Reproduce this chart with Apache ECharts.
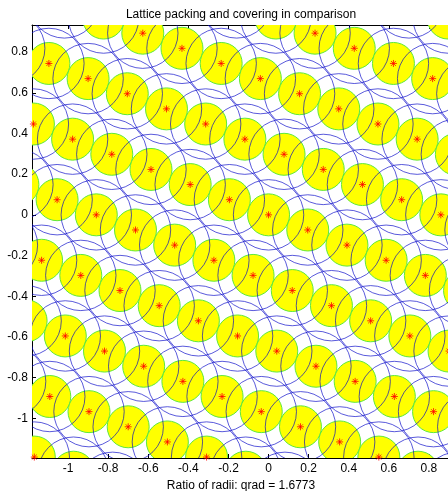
<!DOCTYPE html>
<html>
<head>
<meta charset="utf-8">
<script src="https://cdn.jsdelivr.net/npm/echarts@6/dist/echarts.min.js"></script>
<style>
  html, body { margin: 0; padding: 0; background: #fff; }
  #container { width: 448px; height: 491px; }
</style>
</head>
<body>
<div id="container"></div>
<script>
// lattice centres, read row by row (each row is horizontal)
var rowY = [1.0416, 0.9672, 0.8928, 0.8184, 0.744, 0.6696, 0.5952, 0.5208, 0.4464,
  0.372, 0.2976, 0.2232, 0.1488, 0.0744, 0, -0.0744, -0.1488, -0.2232, -0.2976,
  -0.372, -0.4464, -0.5208, -0.5952, -0.6696, -0.744, -0.8184, -0.8928, -0.9672,
  -1.0416, -1.116, -1.1904, -1.2648, -1.3392];
var rowX = [
  [-1.0184, -0.1591, 0.7002],
  [-0.8229, 0.0364, 0.8957],
  [-0.6274, 0.2319],
  [-1.2912, -0.4319, 0.4274],
  [-1.0957, -0.2364, 0.6229],
  [-0.9002, -0.0409, 0.8184],
  [-0.7047, 0.1546, 1.0139],
  [-0.5092, 0.3501],
  [-1.173, -0.3137, 0.5456],
  [-0.9775, -0.1182, 0.7411],
  [-0.782, 0.0773, 0.9366],
  [-0.5865, 0.2728],
  [-1.2503, -0.391, 0.4683],
  [-1.0548, -0.1955, 0.6638],
  [-0.8593, 0, 0.8593],
  [-0.6638, 0.1955, 1.0548],
  [-1.3276, -0.4683, 0.391],
  [-1.1321, -0.2728, 0.5865],
  [-0.9366, -0.0773, 0.782],
  [-0.7411, 0.1182, 0.9775],
  [-0.5456, 0.3137],
  [-1.2094, -0.3501, 0.5092],
  [-1.0139, -0.1546, 0.7047],
  [-0.8184, 0.0409, 0.9002],
  [-0.6229, 0.2364],
  [-1.2867, -0.4274, 0.4319],
  [-1.0912, -0.2319, 0.6274],
  [-0.8957, -0.0364, 0.8229],
  [-0.7002, 0.1591, 1.0184],
  [-0.5047, 0.3546],
  [-1.1685, -0.3092, 0.55],
  [-0.973, -0.1137, 0.7456],
  [-0.7775, 0.0818, 0.9411]
];
var packRadius = 0.1047;
var qrad = 1.6773;
var xTicks = [-1, -0.8, -0.6, -0.4, -0.2, 0, 0.2, 0.4, 0.6, 0.8];
var yTicks = [-1, -0.8, -0.6, -0.4, -0.2, 0, 0.2, 0.4, 0.6, 0.8];

var centers = [];
rowY.forEach(function (y, i) {
  rowX[i].forEach(function (x) { centers.push([x, y]); });
});

function circleRenderer(radius, style) {
  return function (params, api) {
    var c = api.coord([api.value(0), api.value(1)]);
    var r = api.size([radius, 0])[0];
    var cs = params.coordSys;
    return {
      type: 'circle',
      shape: { cx: c[0], cy: c[1], r: r },
      style: style,
      clipPath: { type: 'rect', shape: { x: cs.x, y: cs.y, width: cs.width, height: cs.height } }
    };
  };
}

var dom = document.getElementById('container');
var myChart = echarts.init(dom, null, { renderer: 'canvas' });

var axisFont = { color: '#000', fontSize: 12, fontFamily: 'Liberation Sans, Arial, sans-serif' };

var option = {
  animation: false,
  title: {
    text: 'Lattice packing and covering in comparison',
    left: 236,
    textAlign: 'center',
    top: 4,
    textStyle: { color: '#000', fontSize: 12, fontWeight: 'normal', fontFamily: 'Liberation Sans, Arial, sans-serif' }
  },
  grid: { left: 32, top: 25, right: -2, bottom: 33, outerBoundsMode: 'none', containLabel: false },
  xAxis: [
    {
      type: 'value',
      min: -1.18,
      max: 0.905,
      name: 'Ratio of radii: qrad = ' + qrad,
      nameLocation: 'middle',
      nameGap: 21,
      nameTextStyle: axisFont,
      axisLine: { show: true, onZero: false, lineStyle: { color: '#000', width: 1 } },
      axisTick: { show: true, inside: true, length: 4, customValues: xTicks, lineStyle: { color: '#000' } },
      axisLabel: Object.assign({ customValues: xTicks, margin: 5 }, axisFont),
      splitLine: { show: false }
    },
    {
      type: 'value',
      position: 'top',
      min: -1.18,
      max: 0.905,
      axisLine: { show: true, onZero: false, lineStyle: { color: '#000', width: 1 } },
      axisTick: { show: true, inside: true, length: 4, customValues: xTicks, lineStyle: { color: '#000' } },
      axisLabel: { show: false },
      splitLine: { show: false }
    }
  ],
  yAxis: {
    type: 'value',
    min: -1.195,
    max: 0.933,
    axisLine: { show: true, onZero: false, lineStyle: { color: '#000', width: 1 } },
    axisTick: { show: true, inside: true, length: 4, customValues: yTicks, lineStyle: { color: '#000' } },
    axisLabel: Object.assign({ customValues: yTicks, margin: 4 }, axisFont),
    splitLine: { show: false }
  },
  series: [
    {
      name: 'packing',
      type: 'custom',
      silent: true,
      data: centers,
      renderItem: circleRenderer(packRadius, { fill: '#ffff00', stroke: '#5ee83a', lineWidth: 1 })
    },
    {
      name: 'covering',
      type: 'custom',
      silent: true,
      data: centers,
      renderItem: circleRenderer(packRadius * qrad, { fill: 'none', stroke: 'rgba(0,0,200,0.65)', lineWidth: 1 })
    },
    {
      name: 'centres',
      type: 'scatter',
      silent: true,
      data: centers,
      symbol: 'path://M5,0L5,10M0,5L10,5M1.5,1.5L8.5,8.5M1.5,8.5L8.5,1.5',
      symbolSize: 7,
      itemStyle: { color: 'none', borderColor: '#ff0000', borderWidth: 1 }
    }
  ]
};

myChart.setOption(option);
window.addEventListener('resize', myChart.resize);
</script>
</body>
</html>
